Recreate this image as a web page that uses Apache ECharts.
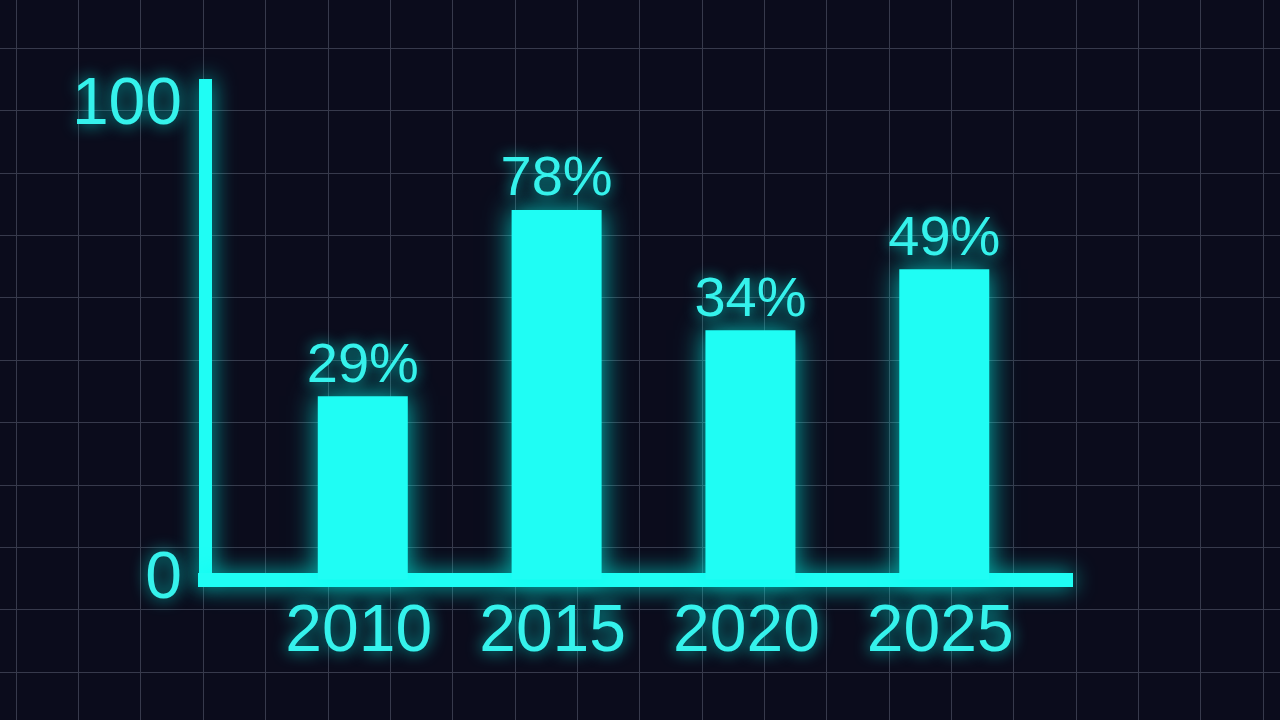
<!DOCTYPE html>
<html>
<head>
<meta charset="utf-8">
<style>
html,body{margin:0;padding:0;background:#0b0c1c;}
#c{width:1280px;height:720px;}
</style>
<script src="https://cdn.jsdelivr.net/npm/echarts@6/dist/echarts.min.js"></script>
</head>
<body>
<div id="c"></div>
<script>
// Data
const years = [2010, 2015, 2020, 2025];
const barHeights = [38.7, 78, 52.6, 65.5];      // bar heights as drawn
const barLabels = ['29%', '78%', '34%', '49%']; // label texts shown above bars
const yTickValues = [0, 100];

const CYAN = '#1ffdf4';
const TEXT = '#35f2ec';
const GLOW = 'rgba(0,255,240,0.75)';
const FONT = "'Liberation Sans', Arial, sans-serif";
const GRIDLINE = { show: true, showMaxLine: false, lineStyle: { color: '#373a4c', width: 1 } };
const HIDDEN = { axisLine: { show: false }, axisTick: { show: false }, axisLabel: { show: false }, splitLine: { show: false } };

const chart = echarts.init(document.getElementById('c'));
chart.setOption({
  backgroundColor: '#0b0c1c',
  animation: false,
  grid: [
    { left: 205, top: 79, width: 861, height: 500.5 },
    { left: 16, top: 0, width: 1264, height: 720 },   // vertical background lines
    { left: 0, top: 0, width: 1280, height: 672 }     // horizontal background lines
  ],
  xAxis: [
    {
      gridIndex: 0, type: 'value', min: 2005.93, max: 2028.14,
      axisLine: { show: true, lineStyle: { color: CYAN, width: 14, cap: 'square', shadowBlur: 22, shadowColor: GLOW } },
      axisTick: { show: false },
      splitLine: { show: false },
      axisLabel: {
        customValues: years,
        formatter: v => String(v),
        color: TEXT, fontSize: 66, fontFamily: FONT, margin: 20,
        padding: [0, 8, 0, 0],
        textShadowBlur: 16, textShadowColor: GLOW
      }
    },
    Object.assign({ gridIndex: 1, type: 'value', min: 0, max: 20.272, interval: 1 }, HIDDEN, { splitLine: GRIDLINE }),
    Object.assign({ gridIndex: 2, type: 'value', min: 0, max: 1 }, HIDDEN)
  ],
  yAxis: [
    {
      gridIndex: 0, type: 'value', min: 0, max: 105.66,
      axisLine: { show: true, lineStyle: { color: CYAN, width: 13, cap: 'butt', shadowBlur: 22, shadowColor: GLOW } },
      axisTick: { show: false },
      splitLine: { show: false },
      axisLabel: {
        customValues: yTickValues,
        formatter: v => String(v),
        color: TEXT, fontSize: 66, fontFamily: FONT, margin: 23,
        padding: [4, 0, 0, 0],
        textShadowBlur: 16, textShadowColor: GLOW
      }
    },
    Object.assign({ gridIndex: 1, type: 'value', min: 0, max: 1 }, HIDDEN),
    Object.assign({ gridIndex: 2, type: 'value', min: 0, max: 10.769, interval: 1 }, HIDDEN, { splitLine: GRIDLINE })
  ],
  series: [{
    type: 'bar',
    xAxisIndex: 0, yAxisIndex: 0,
    barWidth: 90,
    data: years.map((y, i) => [y, barHeights[i]]),
    itemStyle: { color: CYAN, shadowBlur: 26, shadowColor: GLOW },
    label: {
      show: true, position: 'top', distance: 2,
      formatter: p => barLabels[p.dataIndex],
      color: TEXT, fontSize: 56, fontFamily: FONT,
      textShadowBlur: 14, textShadowColor: GLOW
    }
  }]
});
</script>
</body>
</html>
